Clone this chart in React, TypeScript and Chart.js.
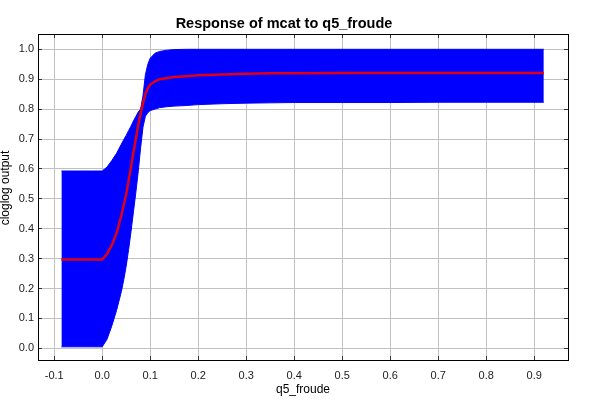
import React, { useEffect, useRef } from "react";
import { Chart, registerables } from "chart.js";

Chart.register(...registerables);

const chartTitle = "Response of mcat to q5_froude";
const xAxisTitle = "q5_froude";
const yAxisTitle = "cloglog output";

const xVals = [-0.085, -0.05, -0.02, 0.0, 0.01, 0.02, 0.03, 0.04, 0.045, 0.05, 0.055, 0.06, 0.065, 0.07, 0.075, 0.08, 0.085, 0.09, 0.095, 0.1, 0.11, 0.12, 0.135, 0.15, 0.175, 0.2, 0.25, 0.3, 0.35, 0.4, 0.5, 0.6, 0.7, 0.8, 0.92];
const upperVals = [0.593, 0.593, 0.593, 0.593, 0.606, 0.628, 0.652, 0.683, 0.698, 0.712, 0.728, 0.743, 0.76, 0.775, 0.79, 0.8, 0.845, 0.915, 0.95, 0.97, 0.987, 0.993, 0.997, 0.999, 1.0, 1.0, 1.0, 1.0, 1.0, 1.0, 1.0, 1.0, 1.0, 1.0, 1.0];
const lowerVals = [0.005, 0.005, 0.005, 0.005, 0.03, 0.075, 0.127, 0.19, 0.23, 0.275, 0.33, 0.39, 0.455, 0.52, 0.59, 0.67, 0.74, 0.776, 0.788, 0.795, 0.8, 0.805, 0.808, 0.81, 0.812, 0.815, 0.818, 0.82, 0.821, 0.822, 0.822, 0.822, 0.823, 0.823, 0.823];
const meanVals = [0.297, 0.297, 0.297, 0.297, 0.315, 0.345, 0.385, 0.445, 0.48, 0.515, 0.56, 0.607, 0.655, 0.7, 0.745, 0.785, 0.82, 0.85, 0.87, 0.882, 0.893, 0.9, 0.904, 0.907, 0.91, 0.913, 0.916, 0.918, 0.92, 0.92, 0.921, 0.921, 0.921, 0.921, 0.921];

const FONT = "'Liberation Sans', Arial, sans-serif";

const fmt = (v: number) => {
  const n = Math.abs(v) < 1e-9 ? 0 : v;
  return n.toFixed(1);
};

const framePlugin = {
  id: "frame",
  afterDraw(chart: any) {
    const { ctx, chartArea } = chart;
    const { left, right, top, bottom } = chartArea;
    const xs = chart.scales.x;
    const ys = chart.scales.y;
    ctx.save();
    ctx.strokeStyle = "#333333";
    ctx.lineWidth = 1;
    ctx.beginPath();
    xs.ticks.forEach((t: any) => {
      const px = Math.floor(xs.getPixelForValue(t.value)) + 0.5;
      ctx.moveTo(px, bottom);
      ctx.lineTo(px, bottom - 4);
      ctx.moveTo(px, top);
      ctx.lineTo(px, top + 4);
    });
    ys.ticks.forEach((t: any) => {
      const py = Math.floor(ys.getPixelForValue(t.value)) + 0.5;
      ctx.moveTo(left, py);
      ctx.lineTo(left + 4, py);
      ctx.moveTo(right, py);
      ctx.lineTo(right - 4, py);
    });
    ctx.stroke();
    ctx.strokeStyle = "#000000";
    ctx.strokeRect(Math.floor(left) + 0.5, Math.floor(top) + 0.5, Math.floor(right) - Math.floor(left), Math.floor(bottom) - Math.floor(top));
    ctx.fillStyle = "#000000";
    ctx.font = `12px ${FONT}`;
    ctx.textAlign = "center";
    ctx.textBaseline = "middle";
    ctx.translate(6, (top + bottom) / 2 - 9);
    ctx.rotate(-Math.PI / 2);
    ctx.fillText(yAxisTitle, 0, 0);
    ctx.restore();
  },
};

export default function App() {
  const ref = useRef<HTMLCanvasElement>(null);
  useEffect(() => {
    if (!ref.current) return;
    const toPts = (ys: number[]) => xVals.map((x, i) => ({ x, y: ys[i] }));
    const chart = new Chart(ref.current, {
      type: "line",
      data: {
        datasets: [
          {
            label: "mean",
            data: toPts(meanVals),
            borderColor: "#e00010",
            borderWidth: 2.5,
            pointRadius: 0,
            fill: false,
          },
          {
            label: "lower",
            data: toPts(lowerVals),
            borderColor: "#0000ff",
            borderWidth: 1,
            pointRadius: 0,
            fill: false,
          },
          {
            label: "upper",
            data: toPts(upperVals),
            borderColor: "#0000ff",
            backgroundColor: "#0000ff",
            borderWidth: 1,
            pointRadius: 0,
            fill: "-1",
          },
        ],
      },
      options: {
        responsive: false,
        animation: false,
        layout: { padding: { left: 0, top: 0, right: 32, bottom: 0 } },
        plugins: {
          legend: { display: false },
          tooltip: { enabled: false },
          title: {
            display: true,
            text: chartTitle,
            color: "#000000",
            font: { family: FONT, size: 14.5, weight: "bold" },
            padding: { top: 15.3, bottom: 1.3 },
          },
        },
        scales: {
          x: {
            type: "linear",
            min: -0.13375,
            max: 0.97042,
            afterFit: (s: any) => {
              s.height = 40;
            },
            ticks: {
              stepSize: 0.1,
              includeBounds: false,
              color: "#222222",
              font: { family: FONT, size: 11 },
              padding: 9,
              maxRotation: 0,
              autoSkip: false,
              callback: (v: any) => fmt(Number(v)),
            },
            grid: { color: "#c0c0c0", lineWidth: 1, drawTicks: false },
            border: { display: false },
            title: {
              display: true,
              text: xAxisTitle,
              color: "#000000",
              font: { family: FONT, size: 12 },
              padding: { top: 0, bottom: 3 },
            },
          },
          y: {
            type: "linear",
            min: -0.0391,
            max: 1.0512,
            afterFit: (s: any) => {
              s.width = 38;
            },
            ticks: {
              stepSize: 0.1,
              includeBounds: false,
              color: "#222222",
              font: { family: FONT, size: 11 },
              padding: 4,
              autoSkip: false,
              callback: (v: any) => fmt(Number(v)),
            },
            grid: { color: "#c0c0c0", lineWidth: 1, drawTicks: false },
            border: { display: false },
            title: { display: false },
          },
        },
      },
      plugins: [framePlugin],
    });
    return () => chart.destroy();
  }, []);
  return (
    <div style={{ position: "fixed", left: 0, top: 0, width: 600, height: 400, background: "#ffffff" }}>
      <canvas ref={ref} width={600} height={400} style={{ display: "block" }} />
    </div>
  );
}
